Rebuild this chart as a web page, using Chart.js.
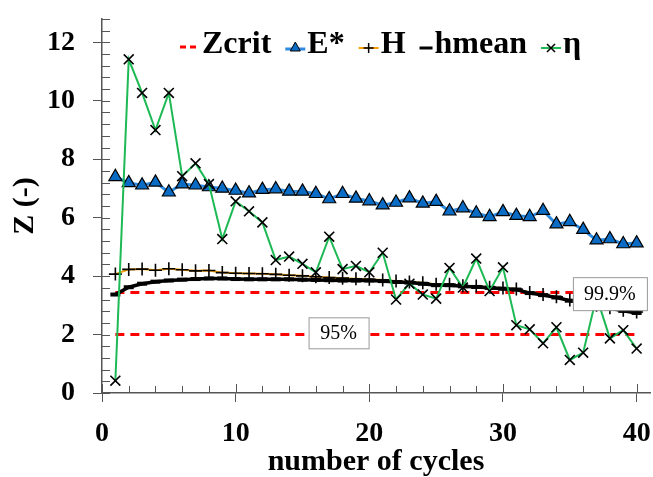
<!DOCTYPE html>
<html>
<head>
<meta charset="utf-8">
<script src="https://cdn.jsdelivr.net/npm/chart.js@4.4.0/dist/chart.umd.min.js"></script>
<style>
  html, body { margin: 0; padding: 0; background: #fff; }
  #wrap { width: 653px; height: 477px; }
</style>
</head>
<body>
<div id="wrap"><canvas id="GraficoZ"></canvas></div>
<script>
// datos
var cycles = [1, 2, 3, 4, 5, 6, 7, 8, 9, 10, 11, 12, 13, 14, 15, 16, 17, 18, 19, 20,
  21, 22, 23, 24, 25, 26, 27, 28, 29, 30, 31, 32, 33, 34, 35, 36, 37, 38, 39, 40];
var eStar = [7.40, 7.19, 7.11, 7.21, 6.87, 7.15, 7.11, 7.05, 7.00, 6.93, 6.84, 6.96, 6.98, 6.90, 6.90, 6.82, 6.64, 6.82, 6.66, 6.57,
  6.43, 6.52, 6.67, 6.49, 6.55, 6.22, 6.33, 6.15, 6.03, 6.20, 6.07, 6.03, 6.24, 5.78, 5.86, 5.59, 5.23, 5.27, 5.10, 5.13];
var hVals = [4.07, 4.23, 4.24, 4.20, 4.25, 4.22, 4.18, 4.19, 4.12, 4.10, 4.09, 4.08, 4.06, 4.03, 4.01, 3.98, 3.95, 3.93, 3.91, 3.89,
  3.87, 3.83, 3.80, 3.77, 3.72, 3.72, 3.67, 3.66, 3.62, 3.59, 3.56, 3.44, 3.37, 3.29, 3.18, 3.08, 3.00, 2.92, 2.83, 2.77];
var hmean = [3.37, 3.62, 3.74, 3.81, 3.85, 3.88, 3.90, 3.92, 3.92, 3.90, 3.89, 3.89, 3.89, 3.89, 3.88, 3.87, 3.86, 3.85, 3.85, 3.85,
  3.83, 3.80, 3.78, 3.74, 3.69, 3.69, 3.65, 3.63, 3.60, 3.57, 3.54, 3.42, 3.35, 3.27, 3.16, 3.06, 2.98, 2.90, 2.81, 2.74];
var eta = [0.42, 11.42, 10.27, 9.00, 10.27, 7.42, 7.86, 7.15, 5.27, 6.56, 6.22, 5.84, 4.55, 4.67, 4.42, 4.13, 5.35, 4.24, 4.35, 4.13,
  4.80, 3.20, 3.74, 3.37, 3.23, 4.28, 3.61, 4.60, 3.49, 4.30, 2.32, 2.18, 1.70, 2.25, 1.13, 1.38, 3.30, 1.87, 2.15, 1.52];
var zcrit999 = 3.44;
var zcrit95 = 2.0;
var yTicks = [0, 2, 4, 6, 8, 10, 12];
var xTicks = [0, 10, 20, 30, 40];
var critLabels = [{ text: '95%', x: 17.7, y: 2.06, w: 60, h: 31 },
                  { text: '99.9%', x: 38.0, y: 3.40, w: 74, h: 33 }];

function pts(vals) {
  return cycles.map(function (c, i) { return { x: c, y: vals[i] }; });
}
function flat(v) {
  return cycles.map(function (c) { return { x: c, y: v }; });
}

var serif = '"Liberation Serif", "Times New Roman", serif';
var axisColor = '#555';

var ctx1 = document.getElementById('GraficoZ').getContext('2d');

var datasets = [
  { label: 'η', data: pts(eta), order: 1, borderColor: '#1DB954', borderWidth: 2,
    pointStyle: 'crossRot', pointRadius: 7, pointBorderColor: '#000', pointBorderWidth: 1.6 },
  { label: 'hmean', data: pts(hmean), order: 2, borderColor: '#000', borderWidth: 3.5,
    pointStyle: 'line', pointRadius: 5, pointBorderColor: '#000', pointBorderWidth: 4 },
  { label: 'H', data: pts(hVals), order: 3, borderColor: '#F5A000', borderWidth: 2,
    pointStyle: 'cross', pointRadius: 6.5, pointBorderColor: '#000', pointBorderWidth: 1.6 },
  { label: 'E*', data: pts(eStar), order: 4, borderColor: '#2E8BE0', borderWidth: 3,
    pointStyle: 'triangle', pointRadius: 7.5, pointBackgroundColor: '#0A6CC4', pointBorderColor: '#000', pointBorderWidth: 1.2 },
  { label: 'Zcrit', data: flat(zcrit999), order: 5, borderColor: '#FF0000', borderWidth: 3,
    borderDash: [9, 6], pointRadius: 0 },
  { label: 'Zcrit', data: flat(zcrit95), order: 6, borderColor: '#FF0000', borderWidth: 3,
    borderDash: [9, 6], pointRadius: 0 }
];

// marcas menores y cruces de marcas mayores hacia dentro
var ticksInside = {
  id: 'ticksInside',
  afterDatasetsDraw: function (chart) {
    var c = chart.ctx, xs = chart.scales.x, ys = chart.scales.y;
    c.save();
    c.strokeStyle = axisColor;
    c.lineWidth = 1;
    var v, p;
    for (v = 0; v <= 12.81; v += 0.4) {
      p = Math.round(ys.getPixelForValue(v)) + 0.5;
      c.beginPath(); c.moveTo(xs.left, p); c.lineTo(xs.left + 8, p); c.stroke();
    }
    for (v = 0; v <= 40; v += 2) {
      p = Math.round(xs.getPixelForValue(v)) + 0.5;
      c.beginPath(); c.moveTo(p, ys.bottom); c.lineTo(p, ys.bottom - (v % 10 === 0 ? 9 : 7)); c.stroke();
    }
    c.restore();
  }
};

// cajas 95% y 99.9%
var critBoxes = {
  id: 'critBoxes',
  afterDraw: function (chart) {
    var c = chart.ctx, xs = chart.scales.x, ys = chart.scales.y;
    c.save();
    critLabels.forEach(function (l) {
      var cx = xs.getPixelForValue(l.x), cy = ys.getPixelForValue(l.y);
      c.fillStyle = '#fff';
      c.strokeStyle = '#999';
      c.lineWidth = 1;
      c.fillRect(cx - l.w / 2, cy - l.h / 2, l.w, l.h);
      c.strokeRect(cx - l.w / 2 + 0.5, cy - l.h / 2 + 0.5, l.w, l.h);
      c.fillStyle = '#000';
      c.font = '20px ' + serif;
      c.textAlign = 'center';
      c.textBaseline = 'middle';
      c.fillText(l.text, cx, cy + 1);
    });
    c.restore();
  }
};

// leyenda dentro del area del grafico
var legendInside = {
  id: 'legendInside',
  afterDraw: function (chart) {
    var c = chart.ctx;
    var y = 45, x = 180;
    c.save();
    c.font = 'bold 32px ' + serif;
    c.textBaseline = 'middle';
    c.textAlign = 'left';
    var items = [
      { label: 'Zcrit', kind: 'dash' },
      { label: 'E*', kind: 'tri' },
      { label: 'H', kind: 'plus' },
      { label: 'hmean', kind: 'bar' },
      { label: 'η', kind: 'x' }
    ];
    items.forEach(function (it) {
      var w = it.kind === 'bar' ? 13 : 20;
      c.save();
      if (it.kind === 'dash') {
        c.strokeStyle = '#FF0000'; c.lineWidth = 3; c.setLineDash([6, 4]);
        c.beginPath(); c.moveTo(x, y + 2); c.lineTo(x + w, y + 2); c.stroke();
      } else if (it.kind === 'tri') {
        c.strokeStyle = '#2E8BE0'; c.lineWidth = 3;
        c.beginPath(); c.moveTo(x, y + 4); c.lineTo(x + w, y + 4); c.stroke();
        c.fillStyle = '#0A6CC4'; c.strokeStyle = '#000'; c.lineWidth = 1;
        c.beginPath(); c.moveTo(x + 10, y - 3); c.lineTo(x + 15, y + 6); c.lineTo(x + 5, y + 6); c.closePath();
        c.fill(); c.stroke();
      } else if (it.kind === 'plus') {
        c.strokeStyle = '#F5A000'; c.lineWidth = 2;
        c.beginPath(); c.moveTo(x, y + 3); c.lineTo(x + w, y + 3); c.stroke();
        c.strokeStyle = '#000'; c.lineWidth = 1.5;
        c.beginPath(); c.moveTo(x + 10, y - 2); c.lineTo(x + 10, y + 8);
        c.moveTo(x + 5, y + 3); c.lineTo(x + 15, y + 3); c.stroke();
      } else if (it.kind === 'bar') {
        c.strokeStyle = '#000'; c.lineWidth = 3;
        c.beginPath(); c.moveTo(x, y + 3); c.lineTo(x + w, y + 3); c.stroke();
      } else {
        c.strokeStyle = '#1DB954'; c.lineWidth = 2;
        c.beginPath(); c.moveTo(x, y + 3); c.lineTo(x + w, y + 3); c.stroke();
        c.strokeStyle = '#000'; c.lineWidth = 1.5;
        c.beginPath(); c.moveTo(x + 6, y - 1); c.lineTo(x + 14, y + 7);
        c.moveTo(x + 14, y - 1); c.lineTo(x + 6, y + 7); c.stroke();
      }
      c.restore();
      c.fillStyle = '#000';
      c.fillText(it.label, x + w + 2, y);
      x += w + 2 + c.measureText(it.label).width + 14;
    });
    c.restore();
  }
};

var options1 = {
  responsive: true,
  maintainAspectRatio: false,
  animation: false,
  layout: { autoPadding: false, padding: { top: 19, right: 3, left: 0, bottom: 0 } },
  plugins: { legend: { display: false }, tooltip: { enabled: false } },
  scales: {
    x: {
      type: 'linear', min: 0, max: 41,
      afterFit: function (s) { s.height = 84; s.paddingLeft = 0; s.paddingRight = 0; },
      afterBuildTicks: function (s) { s.ticks = xTicks.map(function (v) { return { value: v }; }); },
      grid: { drawOnChartArea: false, drawTicks: true, tickLength: 9, color: axisColor },
      border: { display: true, color: axisColor, width: 1.5 },
      ticks: { color: '#000', padding: 15, maxRotation: 0, font: { family: serif, size: 28, weight: 'bold' } },
      title: { display: true, text: 'number of cycles', color: '#000', padding: 0,
        font: { family: serif, size: 30, weight: 'bold', lineHeight: 1 } }
    },
    y: {
      min: 0, max: 12.8,
      afterFit: function (s) { s.width = 102; s.paddingTop = 0; s.paddingBottom = 0; },
      afterBuildTicks: function (s) { s.ticks = yTicks.map(function (v) { return { value: v }; }); },
      grid: { drawOnChartArea: false, drawTicks: true, tickLength: 9, color: axisColor },
      border: { display: true, color: axisColor, width: 1.5 },
      ticks: { color: '#000', padding: 18, font: { family: serif, size: 28, weight: 'bold' } },
      title: { display: true, text: 'Z (-)', color: '#000', padding: 10,
        font: { family: serif, size: 30, weight: 'bold', lineHeight: 1 } }
    }
  }
};

var GraficoZ = new Chart(ctx1, {
  type: 'line',
  data: { datasets: datasets },
  options: options1,
  plugins: [ticksInside, critBoxes, legendInside]
});
</script>
</body>
</html>
